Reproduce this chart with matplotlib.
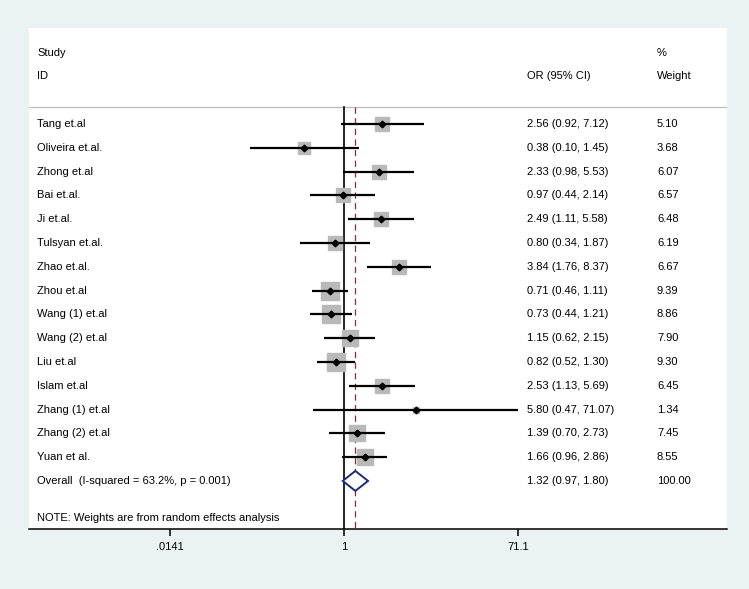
import numpy as np
import matplotlib
matplotlib.use("Agg")
import matplotlib.pyplot as plt
from matplotlib.transforms import blended_transform_factory

plt.rcParams['font.family'] = ['Liberation Sans', 'DejaVu Sans']

studies = ["Tang et.al", "Oliveira et.al.", "Zhong et.al", "Bai et.al.", "Ji et.al.",
           "Tulsyan et.al.", "Zhao et.al.", "Zhou et.al", "Wang (1) et.al", "Wang (2) et.al",
           "Liu et.al", "Islam et.al", "Zhang (1) et.al", "Zhang (2) et.al", "Yuan et al."]
odds = [2.56, 0.38, 2.33, 0.97, 2.49, 0.80, 3.84, 0.71, 0.73, 1.15, 0.82, 2.53, 5.80, 1.39, 1.66]
lower = [0.92, 0.10, 0.98, 0.44, 1.11, 0.34, 1.76, 0.46, 0.44, 0.62, 0.52, 1.13, 0.47, 0.70, 0.96]
upper = [7.12, 1.45, 5.53, 2.14, 5.58, 1.87, 8.37, 1.11, 1.21, 2.15, 1.30, 5.69, 71.07, 2.73, 2.86]
weights = [5.10, 3.68, 6.07, 6.57, 6.48, 6.19, 6.67, 9.39, 8.86, 7.90, 9.30, 6.45, 1.34, 7.45, 8.55]

overall_label = "Overall  (I-squared = 63.2%, p = 0.001)"
overall_or = 1.32
overall_lo = 0.97
overall_hi = 1.80
overall_w = 100.00

tick_vals = [0.0141, 1, 71.1]
tick_labels = [".0141", "1", "71.1"]

W, H = 749, 589
fig = plt.figure(figsize=(W / 100, H / 100), dpi=100)
fig.patch.set_facecolor('#eaf2f3')
ax = fig.add_axes([29 / W, (H - 529) / H, 698 / W, (529 - 28) / H])
ax.set_facecolor('white')

ax.set_xscale('log')
ax.set_xlim(np.exp(-7.698), np.exp(9.360))
ax.set_ylim(18.02, -3.035)

for s in ['top', 'right', 'left']:
    ax.spines[s].set_visible(False)
ax.spines['bottom'].set_color('black')
ax.spines['bottom'].set_linewidth(1.1)
ax.set_yticks([])
ax.set_xticks(tick_vals)
ax.set_xticklabels(tick_labels, fontsize=8)
ax.minorticks_off()
ax.tick_params(axis='x', length=5, width=1.1, pad=4, colors='black')

fs = 8
tr = blended_transform_factory(ax.transAxes, ax.transData)
x_study, x_or, x_w = 0.0115, 0.7135, 0.8997

# header
ax.text(x_study, -2, "Study", transform=tr, fontsize=fs, va='center', ha='left')
ax.text(x_study, -1, "ID", transform=tr, fontsize=fs, va='center', ha='left')
ax.text(x_or, -1, "OR (95% CI)", transform=tr, fontsize=fs, va='center', ha='left')
ax.text(x_w, -2, "%", transform=tr, fontsize=fs, va='center', ha='left')
ax.text(x_w, -1, "Weight", transform=tr, fontsize=fs, va='center', ha='left')
ax.axhline(0.29, color='#bdbdbd', lw=0.9, zorder=1)

# reference lines
ax.plot([1, 1], [0.29, 18.02], color='black', lw=1.2, zorder=2)
ax.plot([overall_or, overall_or], [0.29, 18.02], color='#8c2a3c', lw=0.9,
        dashes=(5, 3.5), zorder=2)

rows = np.arange(1, len(studies) + 1)
for r, name, o, l, u, w in zip(rows, studies, odds, lower, upper, weights):
    ms = 9.4 * np.sqrt(w / 5.10)
    ax.plot([o], [r], marker='s', ms=ms, color='#b9b9b9', mec='#b9b9b9', zorder=3, ls='none')
    ax.plot([l, u], [r, r], color='black', lw=1.6, zorder=4, solid_capstyle='butt')
    ax.plot([o], [r], marker='D', ms=3.4, color='black', zorder=5, ls='none')
    ax.text(x_study, r, name, transform=tr, fontsize=fs, va='center', ha='left')
    ax.text(x_or, r, f"{o:.2f} ({l:.2f}, {u:.2f})", transform=tr, fontsize=fs,
            va='center', ha='left')
    ax.text(x_w, r, f"{w:.2f}", transform=tr, fontsize=fs, va='center', ha='left')

r0 = len(studies) + 1
h = 0.42
ax.fill([overall_lo, overall_or, overall_hi, overall_or],
        [r0, r0 - h, r0, r0 + h], facecolor='white', edgecolor='#1f2a78', lw=1.4, zorder=5)
ax.text(x_study, r0, overall_label, transform=tr, fontsize=fs, va='center', ha='left')
ax.text(x_or, r0, f"{overall_or:.2f} ({overall_lo:.2f}, {overall_hi:.2f})", transform=tr,
        fontsize=fs, va='center', ha='left')
ax.text(x_w, r0, f"{overall_w:.2f}", transform=tr, fontsize=fs, va='center', ha='left')

ax.text(x_study, 17.55, "NOTE: Weights are from random effects analysis", transform=tr,
        fontsize=fs, va='center', ha='left')

fig.savefig("out.png", dpi=100, facecolor=fig.get_facecolor())
